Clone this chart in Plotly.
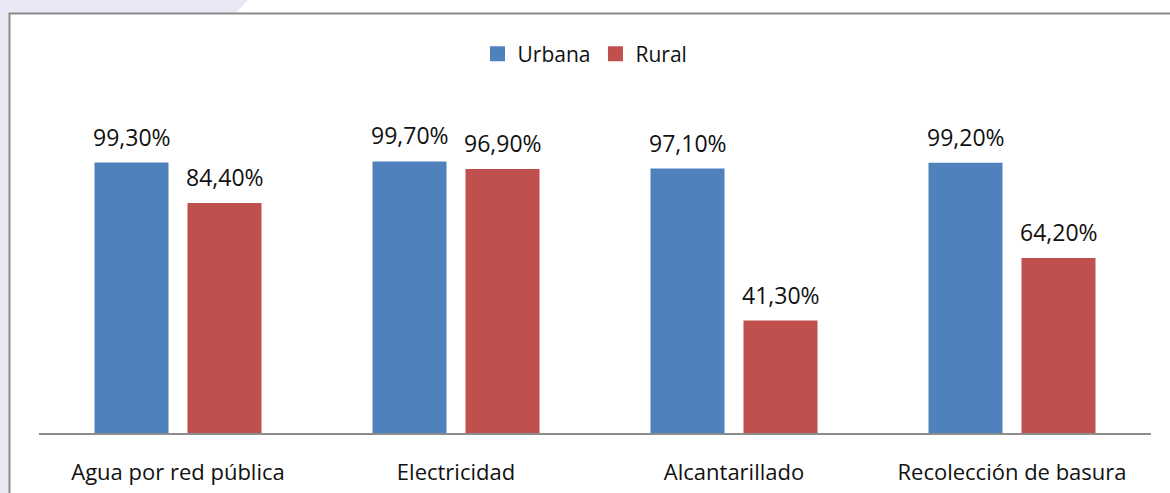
import plotly.graph_objects as go

# Coverage of basic services by area
categories = ["Agua por red pública", "Electricidad", "Alcantarillado", "Recolección de basura"]
urbana = [99.3, 99.7, 97.1, 99.2]
rural = [84.4, 96.9, 41.3, 64.2]
series_names = ["Urbana", "Rural"]

W, H = 1170, 493
BLUE = "#4F81BD"
RED = "#C0504D"
FONT = "Open Sans"

fig = go.Figure()
for name, vals, color in [(series_names[0], urbana, BLUE), (series_names[1], rural, RED)]:
    fig.add_trace(go.Bar(
        name=name, x=categories, y=vals, marker=dict(color=color, line=dict(width=0)),
        offsetgroup=name, showlegend=False,
    ))
# legend entries drawn with larger square swatches
for name, color in [(series_names[0], BLUE), (series_names[1], RED)]:
    fig.add_trace(go.Scatter(
        name=name, x=[None], y=[None], mode="markers",
        marker=dict(symbol="square", size=15, color=color), showlegend=True,
    ))

# value labels above the bars
annotations = []
for vals, shift in [(urbana, -46.5), (rural, 46.5)]:
    for cat, v in zip(categories, vals):
        annotations.append(dict(
            x=cat, y=v, xref="x", yref="y", xshift=shift, yshift=8,
            text=f"{v:.2f}".replace(".", ",") + "%", showarrow=False,
            yanchor="bottom", xanchor="center",
            font=dict(family=FONT, size=23, color="#111111"),
        ))

x0, x1 = 39 / W, 1151 / W
y0 = (H - 433) / H
ppu = 2.724  # pixels per percentage point
ymax = 120
y1 = y0 + ymax * ppu / H

shapes = [
    # light strip on the top edge
    dict(type="path", xref="paper", yref="paper", layer="below",
         path=f"M {248/W},1 L 1.01,1 L 1.01,{1-13/H} L {236/W},{1-13/H} Z",
         fillcolor="white", line=dict(width=0)),
    # white chart box with grey frame
    dict(type="rect", xref="paper", yref="paper", layer="below",
         x0=9.5 / W, x1=1.02, y0=-0.02, y1=1 - 13.5 / H,
         fillcolor="white", line=dict(color="#8A8A8A", width=2)),
]

fig.update_layout(
    width=W, height=H,
    margin=dict(l=0, r=0, t=0, b=0),
    paper_bgcolor="#E8E8F4",
    plot_bgcolor="rgba(0,0,0,0)",
    barmode="group", bargap=0.331, bargroupgap=0.204,
    font=dict(family=FONT, size=20, color="#111111"),
    showlegend=True,
    legend=dict(orientation="h", x=0.5, xanchor="center", y=1 - 54 / H, yanchor="middle",
                font=dict(family=FONT, size=21, color="#111111"),
                itemwidth=30, bgcolor="rgba(0,0,0,0)"),
    xaxis=dict(domain=[x0, x1], showline=True, linecolor="#8C8C8C", linewidth=2,
               ticks="outside", ticklen=19, tickcolor="rgba(0,0,0,0)",
               tickfont=dict(family=FONT, size=22, color="#111111"),
               showgrid=False, zeroline=False),
    yaxis=dict(domain=[y0, y1], range=[0, ymax], visible=False, showgrid=False),
    shapes=shapes,
    annotations=annotations,
)

fig.write_html("out.html")
